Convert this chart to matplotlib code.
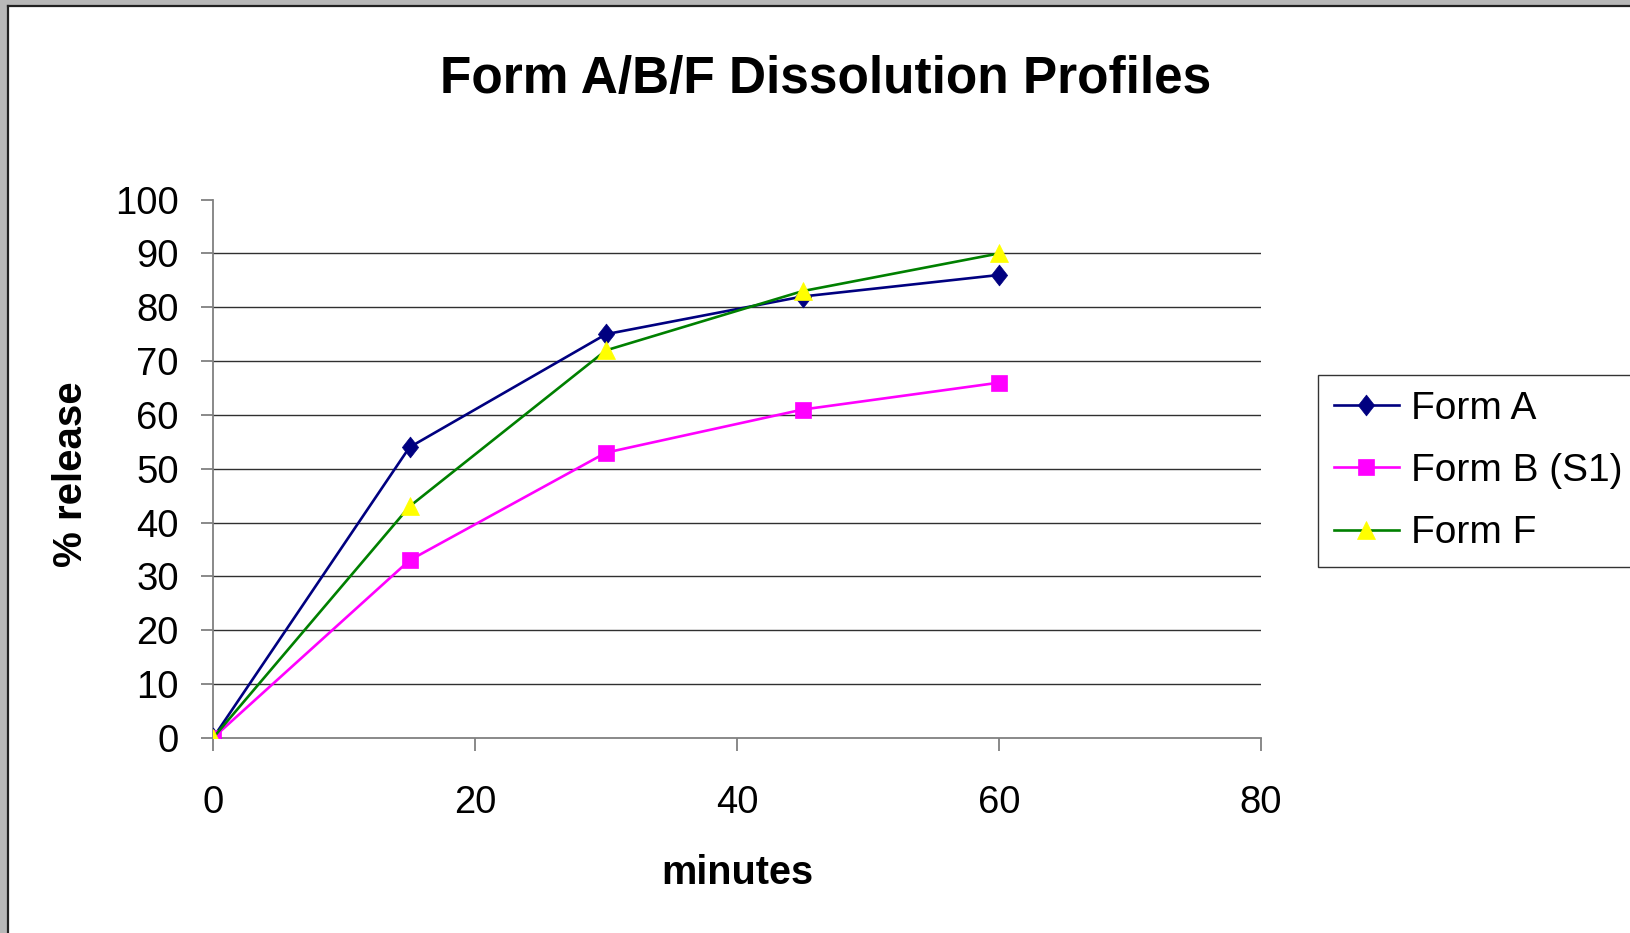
import matplotlib
matplotlib.use('Agg')
import matplotlib.pyplot as plt
from matplotlib.patches import Rectangle
from matplotlib.lines import Line2D
from matplotlib.path import Path

# dissolution data
minutes = [0, 15, 30, 45, 60]
form_a = [0, 54, 75, 82, 86]
form_b = [0, 33, 53, 61, 66]
form_f = [0, 43, 72, 83, 90]
x_ticks = [0, 20, 40, 60, 80]
y_ticks = [0, 10, 20, 30, 40, 50, 60, 70, 80, 90, 100]

plt.rcParams['font.family'] = ['Liberation Sans', 'DejaVu Sans']

W, H = 1630, 933
fig = plt.figure(figsize=(W / 100, H / 100), dpi=100)

# grey window edge with the white chart sheet on top
fig.add_artist(Rectangle((0, 0), 1, 1, transform=fig.transFigure,
                         facecolor='#b8b8b8', edgecolor='none', zorder=-3))
fig.add_artist(Rectangle((8 / W, -0.01), 1, 1 - 6 / H + 0.01, transform=fig.transFigure,
                         facecolor='white', edgecolor='none', zorder=-2))
fig.add_artist(Line2D([8 / W, 8 / W], [0, 1 - 6 / H], transform=fig.transFigure,
                      color='#222222', lw=1.6))
fig.add_artist(Line2D([8 / W, 1], [1 - 6 / H, 1 - 6 / H], transform=fig.transFigure,
                      color='#222222', lw=1.6))

# excel style diamond, a bit taller than wide
diamond = Path([(0, 1), (0.78, 0), (0, -1), (-0.78, 0), (0, 1)],
               [Path.MOVETO, Path.LINETO, Path.LINETO, Path.LINETO, Path.CLOSEPOLY])

ax = fig.add_axes([213 / W, 195 / H, 1048 / W, 538.4 / H])
ax.set_facecolor('none')

ax.plot(minutes, form_a, color='#000080', lw=1.9, marker=diamond, ms=15,
        mfc='#000080', mec='#000080', mew=0.5, label='Form A', zorder=3)
ax.plot(minutes, form_b, color='#ff00ff', lw=1.9, marker='s', ms=11.5,
        mfc='#ff00ff', mec='#ff00ff', mew=0.5, label='Form B (S1)', zorder=3)
ax.plot(minutes, form_f, color='#008000', lw=1.9, marker='^', ms=13.5,
        mfc='#ffff00', mec='#ffff00', mew=0.5, label='Form F', zorder=4)

ax.set_xlim(0, 80)
ax.set_ylim(0, 100)
ax.set_xticks(x_ticks)
ax.set_yticks(y_ticks)
for v in y_ticks[1:-1]:
    ax.axhline(v, color='#303030', lw=1.0, zorder=1)

for s in ['top', 'right']:
    ax.spines[s].set_visible(False)
for s in ['left', 'bottom']:
    ax.spines[s].set_color('#808080')
    ax.spines[s].set_linewidth(1.3)
ax.tick_params(axis='both', colors='#808080', length=9, width=1.3,
               labelsize=27.5, labelcolor='black')
ax.tick_params(axis='y', pad=15.5)
ax.tick_params(axis='x', pad=25)

ax.set_xlabel('minutes', fontsize=28.5, fontweight='bold', va='center')
ax.xaxis.set_label_coords(0.5, (738 - 873) / 538.4)
ax.set_ylabel('% release', fontsize=29, fontweight='bold', va='center')
ax.yaxis.set_label_coords((71 - 213) / 1048, 0.49)
fig.text(826 / W, 1 - 80 / H, 'Form A/B/F Dissolution Profiles', ha='center', va='center',
         fontsize=37, fontweight='bold')

leg = fig.legend(loc='upper left', bbox_to_anchor=(1318 / W, 1 - 375 / H), fontsize=28,
                 frameon=True, fancybox=False, edgecolor='black', handlelength=1.67,
                 borderpad=0.4, labelspacing=0.68, handletextpad=0.33, borderaxespad=0)
leg.get_frame().set_linewidth(1.0)

fig.savefig('out.png', dpi=100)
